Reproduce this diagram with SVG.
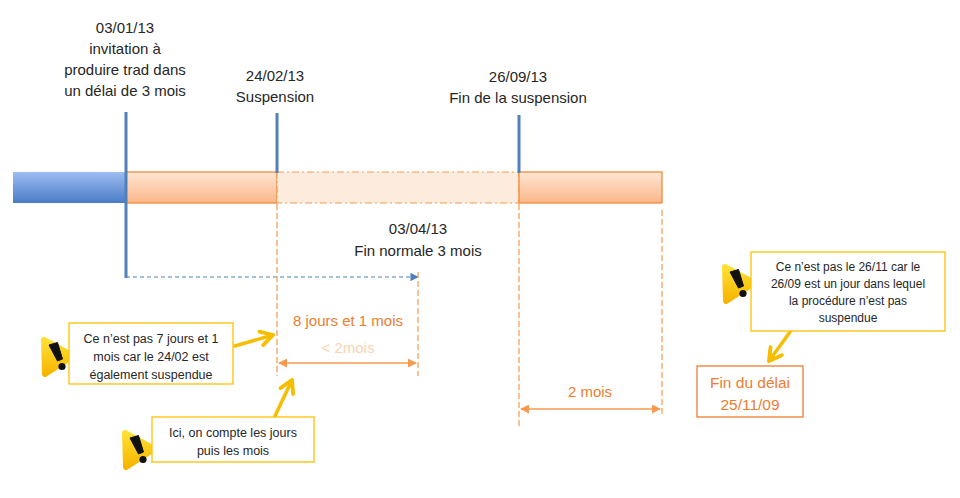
<svg xmlns="http://www.w3.org/2000/svg" width="960" height="498" viewBox="0 0 960 498">
<style>
.t{font-family:"Liberation Sans",Arial,sans-serif;fill:#262626;text-anchor:middle}
.lab{font-size:15px}
.note{font-size:12.5px}
.or{fill:#EE7D31}
.blv{stroke:#4F81BD;stroke-width:3}
.ord{stroke:#F59A4E;stroke-width:1.2;stroke-dasharray:6,3;fill:none}
.ya{stroke:#F5BE00;stroke-width:3.5;fill:none;stroke-linecap:round;stroke-linejoin:round}
.cb{fill:#fff;stroke:#FFC000;stroke-width:1.3}
</style>
<defs>
<linearGradient id="gb" x1="0" y1="0" x2="0" y2="1"><stop offset="0" stop-color="#9DBDF2"/><stop offset="1" stop-color="#4A7BC6"/></linearGradient>
<linearGradient id="go" x1="0" y1="0" x2="0" y2="1"><stop offset="0" stop-color="#FEE6D3"/><stop offset="1" stop-color="#FAB688"/></linearGradient>
<linearGradient id="gy" x1="0" y1="0" x2="0" y2="1"><stop offset="0" stop-color="#FFE033"/><stop offset="1" stop-color="#F7B500"/></linearGradient>
<marker id="mb" viewBox="0 0 10 10" refX="9" refY="5" markerWidth="7" markerHeight="7" orient="auto"><path d="M0,0L10,5L0,10z" fill="#4F81BD"/></marker>
<marker id="mo" viewBox="0 0 10 10" refX="9" refY="5" markerWidth="6" markerHeight="6" orient="auto-start-reverse"><path d="M0,0L10,5L0,10z" fill="#F59A4E"/></marker>
<marker id="my" viewBox="0 0 10 10" refX="8" refY="5" markerWidth="5" markerHeight="5" orient="auto"><path d="M1,1L8,5L1,9" fill="none" stroke="#F5BE00" stroke-width="2.2" stroke-linejoin="round" stroke-linecap="round"/></marker>
<g id="warn">
<path d="M3,3 L32,19 L4,37 Z" fill="url(#gy)" stroke="url(#gy)" stroke-width="6" stroke-linejoin="round"/>
<path d="M8,8 L16.5,5.5 L21.5,22 L16.5,24 Z" fill="#111" stroke="#111" stroke-width="1" stroke-linejoin="round"/>
<circle cx="21" cy="29.5" r="3.6" fill="#111"/>
</g>
</defs>
<rect width="960" height="498" fill="#fff"/>

<g id="bar">
<rect x="13" y="172" width="113" height="31" fill="url(#gb)"/>
<rect x="126" y="172" width="151" height="31" fill="url(#go)" stroke="#F28C3C" stroke-width="1.3"/>
<rect x="277" y="172" width="242" height="31" fill="#FDECDD" stroke="#F59A4E" stroke-width="1.2" stroke-dasharray="7,3,2,3"/>
<rect x="519" y="172" width="143" height="31" fill="url(#go)" stroke="#F28C3C" stroke-width="1.3"/>
</g>

<g id="markers">
<line class="blv" x1="126" y1="112" x2="126" y2="278"/>
<line class="blv" x1="277" y1="113" x2="277" y2="173"/>
<line class="blv" x1="519" y1="115" x2="519" y2="173"/>
</g>

<g id="labels">
<text class="t lab" x="125" y="33">03/01/13</text>
<text class="t lab" x="125" y="54">invitation à</text>
<text class="t lab" x="125" y="75">produire trad dans</text>
<text class="t lab" x="125" y="96">un délai de 3 mois</text>
<text class="t lab" x="275" y="81">24/02/13</text>
<text class="t lab" x="275" y="102">Suspension</text>
<text class="t lab" x="518" y="82">26/09/13</text>
<text class="t lab" x="518" y="103">Fin de la suspension</text>
<text class="t lab" x="418" y="234">03/04/13</text>
<text class="t lab" x="418" y="256">Fin normale 3 mois</text>
</g>

<g id="connectors">
<line x1="126" y1="277" x2="418" y2="277" stroke="#4F81BD" stroke-width="1.2" stroke-dasharray="4,3" marker-end="url(#mb)"/>
<line class="ord" x1="277" y1="204" x2="277" y2="376"/>
<line class="ord" x1="418" y1="272" x2="418" y2="376"/>
<line class="ord" x1="519" y1="204" x2="519" y2="426"/>
<line class="ord" x1="662" y1="210" x2="662" y2="416"/>
<line x1="279" y1="363" x2="416" y2="363" stroke="#F59A4E" stroke-width="1.5" marker-start="url(#mo)" marker-end="url(#mo)"/>
<line x1="521" y1="409" x2="660" y2="409" stroke="#F59A4E" stroke-width="1.5" marker-start="url(#mo)" marker-end="url(#mo)"/>
<line class="ya" x1="235" y1="346" x2="273" y2="335" marker-end="url(#my)"/>
<line class="ya" x1="275" y1="416" x2="292" y2="380" marker-end="url(#my)"/>
<line class="ya" x1="790" y1="332" x2="769" y2="361" marker-end="url(#my)"/>
</g>

<g id="dim-labels">
<text class="t or" x="348" y="326" font-size="15">8 jours et 1 mois</text>
<text class="t" x="348" y="353" font-size="15" style="fill:#FBD3B5">&lt; 2mois</text>
<text class="t or" x="590" y="397" font-size="15">2 mois</text>
</g>

<g id="note1">
<use href="#warn" x="41" y="337"/>
<rect class="cb" x="69" y="323" width="164" height="61"/>
<text class="t note" x="151" y="343">Ce n’est pas 7 jours et 1</text>
<text class="t note" x="151" y="361">mois car le 24/02 est</text>
<text class="t note" x="151" y="379">également  suspendue</text>
</g>

<g id="note2">
<use href="#warn" x="122" y="430"/>
<rect class="cb" x="152" y="417" width="162" height="45"/>
<text class="t note" x="233" y="437">Ici, on compte les jours</text>
<text class="t note" x="233" y="455">puis les mois</text>
</g>

<g id="note3">
<use href="#warn" x="722" y="264"/>
<rect class="cb" x="751" y="252" width="194" height="79"/>
<text class="t" font-size="12" x="848" y="271">Ce n’est pas le 26/11 car le</text>
<text class="t" font-size="12" x="848" y="288">26/09 est un jour dans lequel</text>
<text class="t" font-size="12" x="848" y="305">la procédure n’est pas</text>
<text class="t" font-size="12" x="848" y="322">suspendue</text>
</g>

<g id="fin">
<rect x="697" y="366" width="106" height="51" fill="#fff" stroke="#EE7D31" stroke-width="1.3"/>
<text class="t or" x="750" y="388" font-size="15.5">Fin du délai</text>
<text class="t or" x="750" y="410" font-size="15.5">25/11/09</text>
</g>
</svg>
